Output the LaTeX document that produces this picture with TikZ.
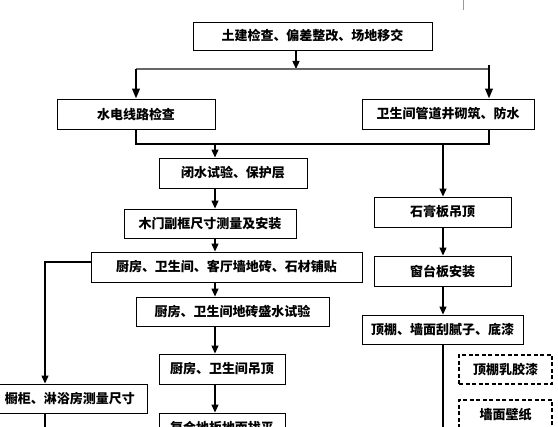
\documentclass[tikz,border=0pt]{standalone}
\usepackage{fontspec}
\newfontfamily\cjk{Noto Sans CJK SC}
\usetikzlibrary{arrows.meta}
\begin{document}
\begin{tikzpicture}[x=1pt,y=-1pt,
  box/.style={draw, line width=0.9pt, inner sep=0pt, anchor=center,
    font=\cjk\bfseries\fontsize{13}{13}\selectfont},
  dbox/.style={box, line width=1.3pt, dash pattern=on 4pt off 2.5pt},
  conn/.style={line width=1.3pt, -{Triangle[length=8pt,width=7pt]}},
  bigconn/.style={line width=2.2pt, -{Triangle[length=10pt,width=7.5pt]}},
  plainln/.style={line width=1.3pt},
  grayln/.style={line width=1.3pt, draw=black!60}]
\useasboundingbox (0,0) rectangle (558,427);
\clip (0,0) rectangle (558,427);

\node[box, minimum width=239pt, minimum height=28pt] (top) at (312.5,36) {土建检查、偏差整改、场地移交};
\node[box, minimum width=158pt, minimum height=30pt] (A) at (136,114) {水电线路检查};
\node[box, minimum width=172pt, minimum height=30pt] (B) at (448,114) {卫生间管道井砌筑、防水};
\node[box, minimum width=148pt, minimum height=30pt] (C) at (233,173) {闭水试验、保护层};
\node[box, minimum width=172pt, minimum height=29pt] (D) at (210,223.5) {木门副框尺寸测量及安装};
\node[box, minimum width=271pt, minimum height=30pt] (E) at (226.5,267) {厨房、卫生间、客厅墙地砖、石材铺贴};
\node[box, minimum width=193pt, minimum height=29pt] (K) at (232.5,311.5) {厨房、卫生间地砖盛水试验};
\node[box, minimum width=126pt, minimum height=30pt] (L) at (222,369) {厨房、卫生间吊顶};
\node[box, minimum width=126pt, minimum height=30pt] (M) at (222,428) {复合地板地面找平};
\node[box, minimum width=154pt, minimum height=29pt] (N) at (70,398.5) {橱柜、淋浴房测量尺寸};
\node[box, minimum width=137pt, minimum height=30pt] (F) at (442.5,212) {石膏板吊顶};
\node[box, minimum width=137pt, minimum height=30pt] (G) at (442.5,271) {窗台板安装};
\node[box, minimum width=161pt, minimum height=29pt] (H) at (442.5,329.5) {顶棚、墙面刮腻子、底漆};
\node[dbox, minimum width=93pt, minimum height=29pt] (I) at (505.5,369.5) {顶棚乳胶漆};
\node[dbox, minimum width=93pt, minimum height=30pt] (J) at (505.5,415) {墙面壁纸};

\coordinate (j1) at (296,69);
\coordinate (hl) at (136,69);
\coordinate (hr) at (489,69);
\coordinate (hr0) at (489,65);
\coordinate (j2l) at (136,144);
\coordinate (j2r) at (489,144);
\coordinate (c215) at (215,144);
\coordinate (c443) at (443,144);
\coordinate (lb) at (45,262);
\coordinate (botL) at (45,432);
\coordinate (botR) at (443,432);
\coordinate (g0) at (463,0);
\coordinate (g1) at (463,10);

\draw[conn] (top.south -| j1) -- (j1);
\draw[grayln] (hl) -- (hr);
\draw[bigconn] (hl) -- (A.north);
\draw[bigconn] (hr0) -- (B.north -| hr0);
\draw[plainln] (A.south) -- (j2l) -- (j2r) -- (B.south -| j2r);
\draw[conn] (c215) -- (C.north -| c215);
\draw[conn] (C.south -| c215) -- (D.north -| c215);
\draw[conn] (D.south -| c215) -- (E.north -| c215);
\draw[conn] (E.south -| c215) -- (K.north -| c215);
\draw[conn] (K.south -| c215) -- (L.north -| c215);
\draw[conn] (L.south -| c215) -- (M.north -| c215);
\draw[conn] (c443) -- (F.north -| c443);
\draw[conn] (F.south -| c443) -- (G.north -| c443);
\draw[conn] (G.south -| c443) -- (H.north -| c443);
\draw[plainln] (H.south -| c443) -- (botR);
\draw[conn] (E.west |- lb) -- (lb) -- (N.north -| lb);
\draw[plainln] (N.south -| lb) -- (botL);
\draw[line width=0.8pt, draw=black!40] (g0) -- (g1);
\end{tikzpicture}
\end{document}
